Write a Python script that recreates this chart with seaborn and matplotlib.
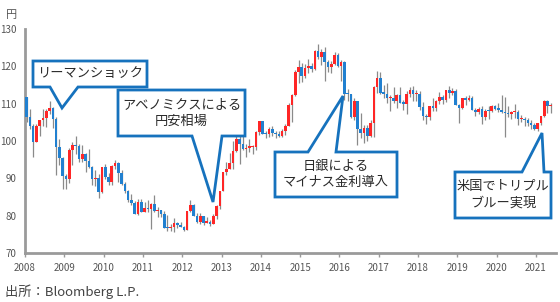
import numpy as np
import pandas as pd
import matplotlib
matplotlib.use("Agg")
import matplotlib.pyplot as plt
import seaborn as sns
from matplotlib.patches import Polygon

# ---------------- data (USD/JPY monthly, Jan 2008 - May 2021) ----------------
year_labels = ["2008", "2009", "2010", "2011", "2012", "2013", "2014",
               "2015", "2016", "2017", "2018", "2019", "2020", "2021"]

opens = [
    111.7, 106.4, 103.9, 99.7, 104.0, 105.5, 106.2, 108.0, 108.8, 106.0, 98.4, 95.5,
    90.6, 89.9, 97.7, 98.9, 98.6, 95.3, 96.4, 94.7, 93.0, 89.8, 90.1, 86.3,
    93.0, 90.3, 88.9, 93.4, 94.0, 91.3, 88.4, 86.5, 84.2, 83.5, 80.4, 83.7,
    81.1, 82.0, 81.8, 83.1, 81.2, 81.5, 80.5, 76.8, 76.6, 77.0, 78.0, 77.6,
    76.9, 76.2, 81.2, 82.9, 80.0, 78.3, 79.8, 78.1, 78.4, 77.9, 79.8, 82.5,
    86.7, 91.7, 92.6, 94.2, 97.4, 100.5, 99.1, 97.9, 98.2, 98.3, 98.4, 102.4,
    105.3, 102.0, 101.8, 103.2, 102.2, 101.8, 101.3, 102.8, 104.1, 109.7, 112.3, 118.6,
    119.8, 117.5, 119.6, 120.1, 119.4, 124.1, 122.5, 123.9, 121.2, 119.9, 120.6, 123.1,
    120.2, 121.1, 112.7, 112.5, 106.4, 110.7, 103.2, 102.1, 103.4, 101.4, 104.8, 114.5,
    117.0, 112.8, 112.7, 111.4, 111.5, 110.8, 112.4, 110.3, 110.0, 112.5, 113.7, 112.5,
    112.7, 109.2, 106.7, 106.3, 109.3, 108.8, 110.7, 111.9, 111.0, 113.7, 112.9, 113.5,
    109.7, 108.9, 111.4, 110.9, 111.4, 108.3, 107.8, 108.7, 106.3, 108.1, 108.0, 109.5,
    108.6, 108.4, 107.9, 107.5, 107.2, 107.8, 107.9, 105.8, 105.9, 105.5, 104.7, 104.3,
    103.3, 104.7, 106.6, 110.7, 109.3,
]
closes = [
    106.4, 103.9, 99.7, 104.0, 105.5, 106.2, 108.0, 108.8, 106.0, 98.4, 95.5, 90.6,
    89.9, 97.7, 98.9, 98.6, 95.3, 96.4, 94.7, 93.0, 89.8, 90.1, 86.3, 93.0,
    90.3, 88.9, 93.4, 94.0, 91.3, 88.4, 86.5, 84.2, 83.5, 80.4, 83.7, 81.1,
    82.0, 81.8, 83.1, 81.2, 81.5, 80.5, 76.8, 76.6, 77.0, 78.0, 77.6, 76.9,
    76.2, 81.2, 82.9, 80.0, 78.3, 79.8, 78.1, 78.4, 77.9, 79.8, 82.5, 86.7,
    91.7, 92.6, 94.2, 97.4, 100.5, 99.1, 97.9, 98.2, 98.3, 98.4, 102.4, 105.3,
    102.0, 101.8, 103.2, 102.2, 101.8, 101.3, 102.8, 104.1, 109.7, 112.3, 118.6, 119.8,
    117.5, 119.6, 120.1, 119.4, 124.1, 122.5, 123.9, 121.2, 119.9, 120.6, 123.1, 120.2,
    121.1, 112.7, 112.5, 106.4, 110.7, 103.2, 102.1, 103.4, 101.4, 104.8, 114.5, 117.0,
    112.8, 112.7, 111.4, 111.5, 110.8, 112.4, 110.3, 110.0, 112.5, 113.7, 112.5, 112.7,
    109.2, 106.7, 106.3, 109.3, 108.8, 110.7, 111.9, 111.0, 113.7, 112.9, 113.5, 109.7,
    108.9, 111.4, 110.9, 111.4, 108.3, 107.8, 108.7, 106.3, 108.1, 108.0, 109.5, 108.6,
    108.4, 107.9, 107.5, 107.2, 107.8, 107.9, 105.8, 105.9, 105.5, 104.7, 104.3, 103.3,
    104.7, 106.6, 110.7, 109.3, 109.6,
]
highs = [
    111.9, 108.7, 104.6, 104.6, 105.5, 108.6, 108.6, 110.7, 109.0, 106.5, 100.5, 95.6,
    91.1, 98.0, 99.7, 101.4, 99.3, 98.9, 96.7, 97.8, 93.4, 92.3, 91.2, 93.1,
    93.8, 91.3, 93.6, 95.0, 94.3, 92.1, 88.9, 86.8, 85.9, 83.9, 84.4, 84.5,
    83.6, 84.1, 83.3, 85.5, 82.2, 81.5, 81.3, 80.2, 77.9, 79.5, 78.3, 78.3,
    77.2, 81.2, 84.2, 83.1, 80.6, 80.6, 79.9, 79.6, 78.9, 80.4, 82.8, 86.7,
    91.8, 94.5, 96.7, 99.9, 103.7, 101.5, 101.5, 99.1, 100.6, 99.0, 102.6, 105.4,
    105.4, 102.8, 103.8, 104.1, 102.8, 102.8, 103.1, 104.5, 110.1, 112.5, 118.9, 121.8,
    121.0, 120.5, 122.0, 120.8, 124.5, 125.9, 124.6, 125.3, 121.7, 121.5, 123.8, 123.6,
    121.7, 121.5, 114.0, 112.7, 111.4, 110.8, 107.5, 104.3, 104.2, 105.5, 114.8, 118.7,
    118.6, 114.9, 115.5, 112.2, 114.4, 112.5, 114.5, 111.0, 113.3, 114.5, 114.7, 113.7,
    113.4, 110.5, 107.3, 109.5, 111.4, 111.0, 113.2, 112.2, 113.7, 114.6, 114.2, 113.8,
    110.0, 111.5, 112.1, 112.4, 112.0, 108.8, 109.0, 109.3, 108.5, 109.3, 109.7, 109.7,
    110.3, 112.2, 111.7, 109.4, 108.1, 109.9, 108.2, 107.0, 106.5, 106.1, 105.7, 104.8,
    104.9, 106.7, 110.9, 110.9, 110.2,
]
lows = [
    105.0, 103.2, 95.8, 99.7, 101.4, 103.9, 103.8, 107.2, 103.5, 90.9, 93.5, 87.1,
    87.1, 88.8, 93.5, 96.4, 94.4, 94.5, 91.7, 92.8, 88.2, 88.0, 84.8, 86.2,
    89.8, 88.1, 88.1, 92.5, 88.9, 88.2, 86.2, 83.6, 82.9, 80.4, 80.2, 80.9,
    81.0, 81.0, 76.3, 81.1, 79.6, 79.7, 76.7, 75.9, 75.9, 75.6, 76.6, 76.9,
    76.0, 76.1, 80.9, 79.8, 78.1, 77.7, 77.6, 78.0, 77.1, 77.9, 79.0, 81.7,
    86.5, 90.9, 92.6, 92.6, 97.1, 93.8, 97.6, 95.8, 97.0, 96.6, 97.6, 101.6,
    101.8, 100.8, 101.2, 101.4, 100.8, 101.1, 101.1, 101.5, 104.0, 105.2, 112.0, 115.6,
    115.9, 116.9, 118.3, 118.5, 118.9, 122.0, 120.4, 116.2, 118.6, 118.1, 120.3, 119.7,
    116.0, 111.0, 110.7, 106.1, 105.6, 99.0, 100.7, 99.5, 100.1, 101.2, 101.2, 112.9,
    112.5, 111.6, 110.1, 108.1, 110.2, 108.8, 110.3, 108.3, 107.3, 111.7, 110.8, 110.8,
    108.3, 105.6, 104.6, 105.7, 108.1, 108.1, 109.9, 109.8, 110.4, 111.4, 112.3, 109.6,
    104.9, 108.5, 109.7, 110.8, 108.3, 106.8, 107.2, 104.5, 105.7, 105.9, 107.9, 108.4,
    107.7, 107.5, 101.2, 106.4, 106.0, 106.1, 104.2, 105.1, 104.0, 104.0, 103.2, 102.9,
    102.6, 104.4, 106.4, 107.5, 107.5,
]

df = pd.DataFrame({"open": opens, "high": highs, "low": lows, "close": closes})
df["idx"] = np.arange(len(df))
df["up"] = df["close"] >= df["open"]

# ---------------- style ----------------
sns.set_theme(style="white")
plt.rcParams["font.family"] = ["Noto Sans CJK JP", "DejaVu Sans"]

W, H = 560, 302
fig = plt.figure(figsize=(W / 100, H / 100), dpi=100)
ax = fig.add_axes([25 / W, 1 - 253 / H, 531 / W, 224 / H])

RED = "#FF2626"
BLUE = "#2180D0"
WICK = "#8a8a8a"

# wicks
ax.vlines(df["idx"], df["low"], df["high"], color=WICK, lw=0.9, zorder=2)
# bodies
body_lo = np.minimum(df["open"], df["close"])
body_h = np.maximum(np.abs(df["close"] - df["open"]), 0.35)
colors = np.where(df["up"], RED, BLUE)
ax.bar(df["idx"], body_h, bottom=body_lo, width=0.8, color=colors,
       linewidth=0, zorder=3)

ax.set_xlim(-0.5, 161.6)
ax.set_ylim(70, 130)
ax.set_yticks(np.arange(70, 131, 10))
ax.set_yticklabels([str(v) for v in range(70, 131, 10)])
ax.set_xticks([-0.5 + 12 * k for k in range(len(year_labels))])
ax.set_xticklabels(year_labels)
ax.tick_params(axis="y", length=0, labelsize=7, colors="#555555", pad=6)
ax.tick_params(axis="x", length=3, width=1, color="#999999", labelsize=7,
               labelcolor="#555555", pad=4, direction="out", bottom=True)
for s in ["top", "right"]:
    ax.spines[s].set_visible(False)
for s in ["left", "bottom"]:
    ax.spines[s].set_color("#9a9a9a")
    ax.spines[s].set_linewidth(2)
ax.set_facecolor("white")

fig.text(12 / W, 1 - 15 / H, "円", fontsize=8, color="#555555", ha="center", va="center")
fig.text(5 / W, 1 - 292 / H, "出所：Bloomberg L.P.", fontsize=9.5, color="#444444",
         ha="left", va="center")

# ---------------- callouts ----------------
EDGE = "#1672BD"


def P(x, y):
    return (x / W, 1 - y / H)


def callout(x0, y0, x1, y1, b1, b2, apex, side, text, ls):
    if side == "bottom":
        pts = [(x0, y0), (x1, y0), (x1, y1), (b2, y1), apex, (b1, y1), (x0, y1)]
    else:
        pts = [(x0, y0), (b1, y0), apex, (b2, y0), (x1, y0), (x1, y1), (x0, y1)]
    poly = Polygon([P(*p) for p in pts], closed=True, transform=fig.transFigure,
                   facecolor="white", edgecolor=EDGE, lw=2.0, joinstyle="miter",
                   zorder=10)
    fig.add_artist(poly)
    cx, cy = P((x0 + x1) / 2, (y0 + y1) / 2)
    fig.text(cx, cy, text, ha="center", va="center", fontsize=9.5,
             color="#2a2a2a", linespacing=ls, zorder=11)


callout(33, 61, 147, 87, 50, 78, (62, 108), "bottom", "リーマンショック", 1.2)
callout(118, 90, 245, 136, 192, 222, (213, 202), "bottom",
        "アベノミクスによる\n円安相場", 1.3)
callout(275, 152, 397, 197, 308, 336, (343, 96), "top",
        "日銀による\nマイナス金利導入", 1.3)
callout(455, 172, 551, 218, 522, 544, (542, 133), "top",
        "米国でトリプル\nブルー実現", 1.4)

fig.savefig("out.png", dpi=100, facecolor="white")
